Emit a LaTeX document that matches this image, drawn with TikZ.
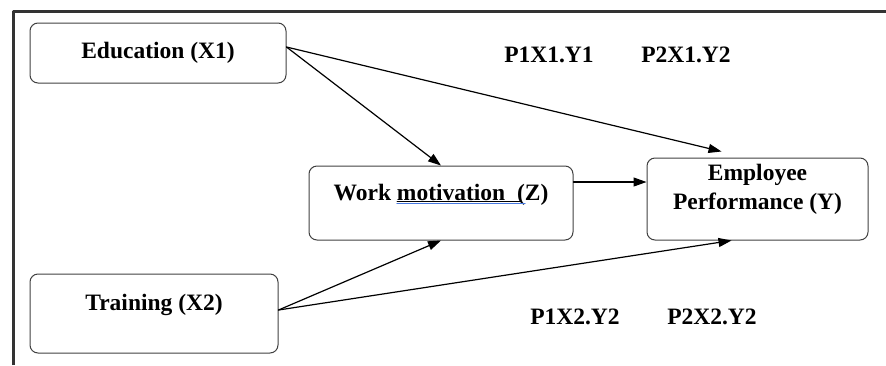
\documentclass[tikz,border=0pt]{standalone}
\usepackage{fontspec}
\setmainfont{Liberation Serif}
\usetikzlibrary{arrows.meta}
\definecolor{spellblue}{RGB}{70,120,225}

\begin{document}
\begin{tikzpicture}[x=1pt, y=-1pt, line cap=round, line join=round,
  box/.style={draw=black!75, line width=1pt, rounded corners=8pt, align=center,
    inner sep=0pt, font=\fontsize{23.5}{29}\selectfont\bfseries},
  link/.style={draw, line width=1.2pt, -{Triangle[length=13pt,width=9pt]}},
  coef/.style={inner sep=0pt, font=\fontsize{23.5}{29}\selectfont\bfseries}]

  %% ════ 画布 ════
  \useasboundingbox (0,0) rectangle (886,365);
  \draw[line width=3pt, black!80, line cap=butt] (13,365) -- (13,11) -- (886,11);

  %% ════ 变量框 ════
  \node[box, minimum width=256pt, minimum height=60pt] (edu) at (158,53) {Education (X1)};
  \node[box, minimum width=248pt, minimum height=79pt, text height=16pt, text depth=23pt] (trn) at (154,313.5) {Training (X2)};
  \node[box, minimum width=264pt, minimum height=74pt, text height=16pt, text depth=22pt] (wm) at (441,203) {Work motivation\ \ (Z)};
  \node[box, minimum width=221pt, minimum height=82pt, text height=26pt] (ep) at (757.5,199) {Employee\\Performance (Y)};

  % 拼写检查下划线
  \draw[line width=1pt] ([xshift=-44pt,yshift=2pt]wm.center) -- ([xshift=80pt,yshift=2pt]wm.center);
  \draw[line width=1.2pt, spellblue] ([xshift=-44pt,yshift=-0.5pt]wm.center) -- ([xshift=84pt,yshift=-0.5pt]wm.center);

  %% ════ 路径箭头 ════
  \draw[link] ([yshift=6pt]edu.east) -- (wm.north);
  \draw[link] ([yshift=6pt]edu.east) -- ([xshift=-36pt,yshift=6pt]ep.north);
  \draw[link] ([yshift=21pt]wm.east) -- ([yshift=21pt]wm.east -| ep.west);
  \draw[link] ([yshift=3.5pt]trn.east) -- (wm.south);
  \draw[link] ([yshift=3.5pt]trn.east) -- ([xshift=-26pt]ep.south);

  %% ════ 系数标签 ════
  \node[coef] (p1x1) at (549,54.5) {P1X1.Y1};
  \node[coef] (p2x1) at (686,54.5) {P2X1.Y2};
  \node[coef] (p1x2) at (575,316.5) {P1X2.Y2};
  \node[coef] (p2x2) at (712,316.5) {P2X2.Y2};
\end{tikzpicture}
\end{document}
